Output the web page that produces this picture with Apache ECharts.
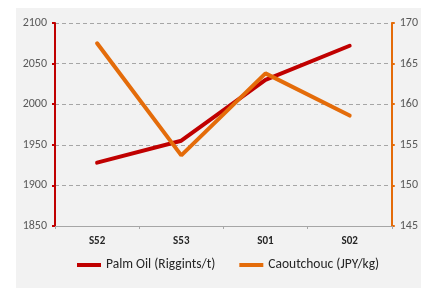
<!DOCTYPE html>
<html><head><meta charset="utf-8">
<script src="https://cdn.jsdelivr.net/npm/echarts@6/dist/echarts.min.js"></script>
<style>html,body{margin:0;padding:0;background:#fff}#c{width:421px;height:288px}</style>
</head><body><div id="c"></div>
<script>
const categories = ['S52', 'S53', 'S01', 'S02'];
const palmOil = [1928, 1955, 2030, 2072];
const caoutchouc = [167.5, 153.7, 163.8, 158.6];
const leftTicks = [1850, 1900, 1950, 2000, 2050, 2100];
const rightTicks = [145, 150, 155, 160, 165, 170];

const chart = echarts.init(document.getElementById('c'), null, {renderer: 'canvas'});
const font = 'Calibri, Carlito, "Liberation Sans Narrow", "Open Sans", sans-serif';
chart.setOption({
  animation: false,
  backgroundColor: '#ffffff',
  graphic: [{type: 'rect', left: 16, top: 8, shape: {width: 405, height: 280}, style: {fill: '#f2f2f2'}, z: -10}],
  grid: {left: 55, right: 29, top: 23, bottom: 62, containLabel: false},
  legend: {
    bottom: 11, left: 72, itemWidth: 24, itemHeight: 4, itemGap: 24,
    textStyle: {fontFamily: font, fontSize: 13.5, color: '#262626'},
    icon: 'rect',
    data: ['Palm Oil (Riggints/t)', 'Caoutchouc (JPY/kg)']
  },
  xAxis: {
    type: 'category', data: categories, boundaryGap: true,
    axisLine: {lineStyle: {color: '#a6a6a6', width: 1}},
    axisTick: {show: true, length: 3, lineStyle: {color: '#a6a6a6'}},
    axisLabel: {fontFamily: font, fontSize: 11, fontWeight: 'bold', color: '#262626', margin: 10}
  },
  yAxis: [{
    type: 'value', min: leftTicks[0], max: leftTicks[leftTicks.length - 1], interval: 50, position: 'left',
    axisLine: {show: true, lineStyle: {color: '#c00000', width: 2}},
    axisTick: {show: true, length: 3, lineStyle: {color: '#c00000', width: 2}},
    axisLabel: {fontFamily: font, fontSize: 12, color: '#595959', margin: 8, formatter: v => String(v)},
    splitLine: {show: true, lineStyle: {color: '#a6a6a6', type: [4, 3], width: 1}}
  }, {
    type: 'value', min: rightTicks[0], max: rightTicks[rightTicks.length - 1], interval: 5, position: 'right',
    axisLine: {show: true, lineStyle: {color: '#e46c0a', width: 2}},
    axisTick: {show: true, length: 3, inside: false, lineStyle: {color: '#e46c0a', width: 2}},
    axisLabel: {fontFamily: font, fontSize: 12, color: '#595959', margin: 8, formatter: v => String(v)},
    splitLine: {show: false}
  }],
  series: [{
    name: 'Palm Oil (Riggints/t)', type: 'line', data: palmOil, yAxisIndex: 0,
    symbol: 'none', lineStyle: {color: '#c00000', width: 4, cap: 'round'}, itemStyle: {color: '#c00000'}
  }, {
    name: 'Caoutchouc (JPY/kg)', type: 'line', data: caoutchouc, yAxisIndex: 1,
    symbol: 'none', lineStyle: {color: '#e46c0a', width: 4, cap: 'round'}, itemStyle: {color: '#e46c0a'}
  }]
});
</script></body></html>
